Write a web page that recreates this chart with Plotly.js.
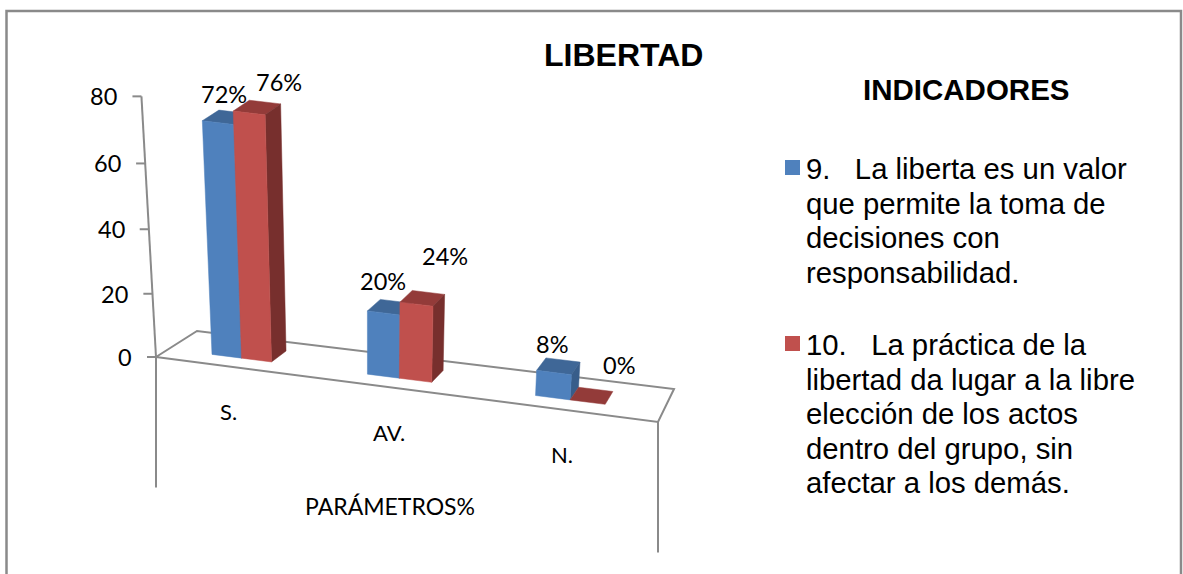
<!DOCTYPE html>
<html><head><meta charset="utf-8">
<script src="https://cdn.plot.ly/plotly-3.0.1.min.js"></script>
<style>html,body{margin:0;padding:0;background:#fff;overflow:hidden}#c{width:1183px;height:574px}</style>
</head><body><div id="c"></div>
<script>
// ---------- chart data ----------
const categories = ["S.", "AV.", "N."];
const seriesBlue = [72, 20, 8];
const seriesRed = [76, 24, 0];
const blueLabels = ["72%", "20%", "8%"];
const redLabels = ["76%", "24%", "0%"];
const yTicks = [0, 20, 40, 60, 80];
const chartTitle = "LIBERTAD";
const legendTitle = "INDICADORES";
const axisTitle = "PARÁMETROS%";
const blueLegendLines = ["9.   La liberta es un valor", "que permite la toma de", "decisiones con", "responsabilidad."];
const redLegendLines = ["10.   La práctica de la", "libertad da lugar a la libre", "elección de los actos", "dentro del grupo, sin", "afectar a los demás."];

// ---------- styles ----------
const GRID = "#8a8a8a", SANS = "Liberation Sans, Arial, sans-serif", LABEL = "Lato, sans-serif";
const BLUE = {front: "#4f81bd", top: "#3f6797", side: "#385d8a"};
const RED = {front: "#c0504d", top: "#933b39", side: "#772f2d"};

// ---------- oblique projection of the 3-D scene onto the cartesian axes ----------
const PX_PER_UNIT = 3.26, BASE_PX = 357;          // y-axis scale: page pixel of value 0
const H = {a: 427.45, b: 52.07, c: 156, d: 17.2, e: -7.4, f: 357, g: -0.1133, h: 0.0562};
const VAN_X = 370, VAN_K = 0.00085;
const RISE_A = 3.13, RISE_B = 0.0016;             // perspective growth of height with value
function pxToVal(py) { return (BASE_PX - py) / PX_PER_UNIT; }
function rise(v) { return (RISE_A * v + RISE_B * v * v) / PX_PER_UNIT; }
function project(t, depth, v) {
  const w = H.g * t + H.h * depth + 1;
  const fx = (H.a * t + H.b * depth + H.c) / w;
  const fy = (H.d * t + H.e * depth + H.f) / w;
  return [fx + (fx - VAN_X) * VAN_K * v, pxToVal(fy) + rise(v)];
}
const D0 = 0.3, D1 = 0.7, BARW = 0.196, T_SHIFT = -0.004;
function tOf(i, slot) { return (i + 0.5 + slot * BARW) / categories.length + T_SHIFT; }

function faces(values, offset, st, name) {
  const fr = {x: [], y: []}, tp = {x: [], y: []}, sd = {x: [], y: []};
  const push = (o, pts) => { pts.forEach(p => { o.x.push(p[0]); o.y.push(p[1]); }); o.x.push(null); o.y.push(null); };
  values.forEach((v, i) => {
    const l = tOf(i, offset), r = tOf(i, offset + 1);
    push(tp, [project(l, D0, v), project(r, D0, v), project(r, D1, v), project(l, D1, v), project(l, D0, v)]);
    if (v > 0) {
      push(sd, [project(r, D0, 0), project(r, D1, 0), project(r, D1, v), project(r, D0, v), project(r, D0, 0)]);
      push(fr, [project(l, D0, 0), project(r, D0, 0), project(r, D0, v), project(l, D0, v), project(l, D0, 0)]);
    }
  });
  const tr = (o, c, n) => ({x: o.x, y: o.y, type: "scatter", mode: "lines", fill: "toself", fillcolor: c,
    line: {color: c, width: 0.5}, name: name + " " + n, hoverinfo: "skip", showlegend: false});
  return [tr(tp, st.top, "top"), tr(sd, st.side, "side"), tr(fr, st.front, "front")];
}

// ---------- axes frame ----------
const gridTraceXY = {x: [], y: []};
function seg(pts) { pts.forEach(p => { gridTraceXY.x.push(p[0]); gridTraceXY.y.push(p[1]); }); gridTraceXY.x.push(null); gridTraceXY.y.push(null); }
const FL = project(0, 0, 0), FR = project(1, 0, 0), BR = project(1, 1, 0), BL = project(0, 1, 0);
const yMax = yTicks[yTicks.length - 1], TICK = 9, DROP = 40;
seg([FL, project(0, 0, yMax)]);
yTicks.forEach(v => { const p = project(0, 0, v); seg([p, [p[0] - TICK, p[1]]]); });
seg([FL, FR, BR, BL, FL]);
seg([FL, [FL[0], FL[1] - DROP]]);
seg([FR, [FR[0], FR[1] - DROP]]);
const gridTrace = {x: gridTraceXY.x, y: gridTraceXY.y, type: "scatter", mode: "lines", line: {color: GRID, width: 2},
  hoverinfo: "skip", showlegend: false, name: "axes"};

// ---------- legend swatches ----------
const LEG_X = 792.5, LEG_TEXT_X = 804, LEG_STEP = 34.6, LEG_Y1 = 168.5, LEG_Y2 = 344.5;
const swatches = [[BLUE.front, LEG_Y1 - 1, "blue"], [RED.front, LEG_Y2 - 1, "red"]].map(s => ({
  x: [LEG_X], y: [pxToVal(s[1])], type: "scatter", mode: "markers",
  marker: {symbol: "square", size: 15, color: s[0]}, hoverinfo: "skip", showlegend: false, name: s[2]}));

// ---------- texts ----------
const ann = [];
function text(x, y, t, font, size, extra) {
  ann.push(Object.assign({x: x, y: y, xref: "x", yref: "y", text: t, showarrow: false,
    font: {family: font, size: size, color: "#000"}, xanchor: "center", yanchor: "middle"}, extra || {}));
}
yTicks.forEach(v => { const p = project(0, 0, v); text(p[0] - TICK - 13, p[1], String(v), LABEL, 23.5, {xanchor: "right"}); });
categories.forEach((c, i) => { const p = project(tOf(i, 0), 0, 0); text(p[0] - 1, p[1], c, LABEL, 22, {yshift: -45}); });
const nudgeBlue = [[-2, 23], [-7, 26], [-6, 22]], nudgeRed = [[22, 25], [23, 42], [27, 31]];
function barLabels(vals, labels, offset, nudge) {
  vals.forEach((v, i) => {
    const p = project(tOf(i, offset + 0.5), 0.5, v);
    text(p[0] + nudge[i][0], p[1], labels[i], LABEL, 23.5, {yshift: nudge[i][1]});
  });
}
barLabels(seriesBlue, blueLabels, -1, nudgeBlue);
barLabels(seriesRed, redLabels, 0, nudgeRed);
text(623, pxToVal(55), chartTitle, SANS, 32, {font: {family: SANS, size: 32, color: "#000", weight: 700}});
text(966, pxToVal(89), legendTitle, SANS, 29.5, {font: {family: SANS, size: 29.5, color: "#000", weight: 700}});
text(390, pxToVal(506), axisTitle, LABEL, 23);
blueLegendLines.forEach((t, i) => text(LEG_TEXT_X, pxToVal(LEG_Y1 + i * LEG_STEP), t, SANS, 29.3, {xanchor: "left"}));
redLegendLines.forEach((t, i) => text(LEG_TEXT_X, pxToVal(LEG_Y2 + i * LEG_STEP), t, SANS, 29.3, {xanchor: "left"}));

const traces = [gridTrace].concat(faces(seriesBlue, -1, BLUE, "blue"), faces(seriesRed, 0, RED, "red"), swatches);

const layout = {
  width: 1183, height: 574, margin: {l: 0, r: 0, t: 0, b: 0, pad: 0},
  paper_bgcolor: "#fff", plot_bgcolor: "#fff", showlegend: false,
  xaxis: {range: [0, 1183], visible: false, fixedrange: true},
  yaxis: {range: [pxToVal(574), pxToVal(0)], visible: false, fixedrange: true},
  annotations: ann,
  shapes: [{type: "path", xref: "x", yref: "y", layer: "below",
    path: "M 6.5 " + pxToVal(590) + " L 6.5 " + pxToVal(11) + " L 1181 " + pxToVal(11) + " L 1181 " + pxToVal(590),
    line: {color: GRID, width: 2.5}}]
};
Plotly.newPlot("c", traces, layout, {displayModeBar: false, staticPlot: true});
</script></body></html>
